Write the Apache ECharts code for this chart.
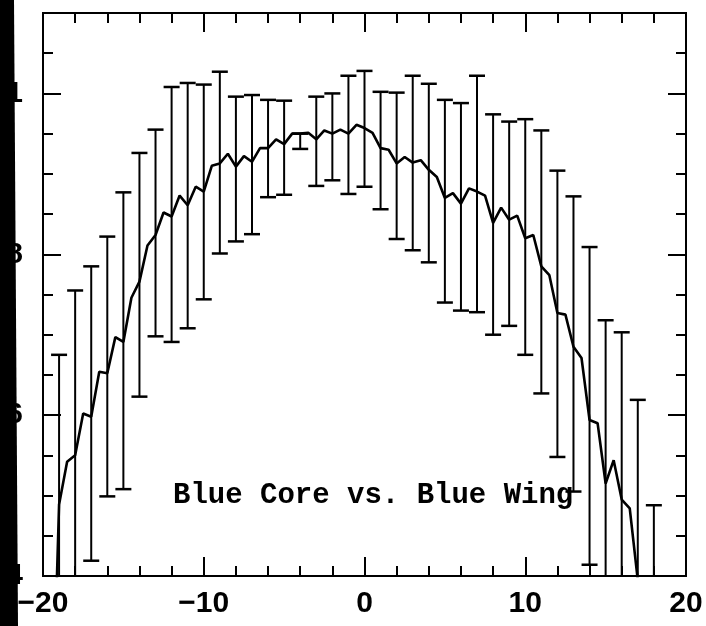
<!DOCTYPE html>
<html>
<head>
<meta charset="utf-8">
<script src="https://cdn.jsdelivr.net/npm/echarts@6/dist/echarts.min.js"></script>
<style>
html,body{margin:0;padding:0;background:#fff;}
#main{width:706px;height:626px;}
</style>
</head>
<body>
<div id="main"></div>
<script>
// Profile line (sampled every 0.5)
const lineX = [-19.5,-19,-18.5,-18,-17.5,-17,-16.5,-16,-15.5,-15,-14.5,-14,-13.5,-13,-12.5,-12,-11.5,-11,-10.5,-10,
  -9.5,-9,-8.5,-8,-7.5,-7,-6.5,-6,-5.5,-5,-4.5,-4,-3.5,-3,-2.5,-2,-1.5,-1,-0.5,0,
  0.5,1,1.5,2,2.5,3,3.5,4,4.5,5,5.5,6,6.5,7,7.5,8,8.5,9,9.5,10,
  10.5,11,11.5,12,12.5,13,13.5,14,14.5,15,15.5,16,16.5,17];
const lineY = [0.15,0.489,0.542,0.550,0.602,0.598,0.654,0.652,0.697,0.691,0.746,0.766,0.811,0.824,0.852,0.847,0.873,0.861,0.884,0.878,
  0.910,0.913,0.925,0.909,0.922,0.915,0.932,0.932,0.943,0.937,0.950,0.950,0.951,0.943,0.954,0.950,0.955,0.950,0.961,0.957,
  0.951,0.932,0.930,0.913,0.921,0.914,0.917,0.905,0.896,0.870,0.876,0.863,0.882,0.878,0.873,0.839,0.858,0.843,0.848,0.820,
  0.824,0.785,0.774,0.727,0.725,0.685,0.671,0.594,0.590,0.515,0.544,0.495,0.484,0.395];

// Error bars (one per integer offset)
const barX = [-19,-18,-17,-16,-15,-14,-13,-12,-11,-10,-9,-8,-7,-6,-5,-4,-3,-2,-1,0,1,2,3,4,5,6,7,8,9,10,11,12,13,14,15,16,17,18];
const barHigh = [0.675,0.755,0.785,0.822,0.877,0.926,0.955,1.008,1.013,1.011,1.027,0.996,0.998,0.992,0.991,0.950,0.996,1.000,1.022,1.028,
  1.002,1.001,1.022,1.012,0.992,0.988,1.022,0.974,0.965,0.968,0.954,0.904,0.872,0.809,0.718,0.703,0.619,0.488];
const barLow = [0.30,0.33,0.419,0.499,0.508,0.623,0.698,0.691,0.708,0.744,0.801,0.816,0.825,0.871,0.874,0.931,0.885,0.892,0.875,0.884,
  0.856,0.819,0.805,0.790,0.740,0.730,0.728,0.700,0.711,0.675,0.627,0.548,0.505,0.414,0.30,0.30,0.30,0.30];

const xTickMajor = 10, xTickMinor = 2;
const yTickMajor = 0.2, yTickMinor = 0.05;
const xMin = -20, xMax = 20, yMin = 0.4, yMax = 1.1;
const titleText = 'Blue Core vs. Blue Wing';

const lineData = lineX.map((x, i) => [x, lineY[i]]);
const barData = barX.map((x, i) => [x, barLow[i], barHigh[i]]);

const labelFont = {fontFamily: '"Liberation Sans", Arial, sans-serif', fontSize: 30, fontWeight: 'bold', color: '#000'};
const axisLineStyle = {show: true, onZero: false, lineStyle: {color: '#000', width: 2}};

function xAx(pos, interval, len, showLabel) {
  return {
    type: 'value', min: xMin, max: xMax, interval: interval, position: pos,
    axisLine: axisLineStyle,
    axisTick: {show: true, inside: true, length: len, lineStyle: {color: '#000', width: 2}},
    axisLabel: showLabel ? Object.assign({show: true, margin: 13,
      formatter: v => (v < 0 ? '\u2212' + Math.abs(v) : String(v))}, labelFont) : {show: false},
    splitLine: {show: false}
  };
}
function yAx(pos, interval, len, showLabel) {
  return {
    type: 'value', min: yMin, max: yMax, interval: interval, position: pos,
    axisLine: axisLineStyle,
    axisTick: {show: true, inside: true, length: len, lineStyle: {color: '#000', width: 2}},
    axisLabel: showLabel ? Object.assign({show: true, margin: 20, showMaxLabel: false,
      formatter: v => (Math.abs(v - 1) < 1e-9 ? '1' : '.' + Math.round(v * 10))}, labelFont) : {show: false},
    splitLine: {show: false}
  };
}

const chart = echarts.init(document.getElementById('main'), null, {renderer: 'canvas'});
chart.setOption({
  animation: false,
  backgroundColor: '#fff',
  grid: {left: 43, right: 20, top: 13, bottom: 50, containLabel: false, outerBoundsMode: 'none'},
  xAxis: [
    xAx('bottom', xTickMinor, 10, false),
    xAx('bottom', xTickMajor, 19, true),
    xAx('top', xTickMinor, 10, false),
    xAx('top', xTickMajor, 19, false)
  ],
  yAxis: [
    yAx('left', yTickMinor, 10, false),
    yAx('left', yTickMajor, 18, true),
    yAx('right', yTickMinor, 10, false),
    yAx('right', yTickMajor, 18, false)
  ],
  series: [
    {
      type: 'custom',
      xAxisIndex: 0, yAxisIndex: 0,
      clip: true,
      data: barData,
      renderItem: function (params, api) {
        const x = api.value(0), lo = api.value(1), hi = api.value(2);
        const cs = params.coordSys;
        const bottomPx = cs.y + cs.height, topPx = cs.y;
        const pT = api.coord([x, hi]);
        const pB = api.coord([x, lo]);
        const hw = 8;
        const children = [];
        let yb = pB[1], yt = pT[1];
        const botClipped = yb > bottomPx;
        const topClipped = yt < topPx;
        if (botClipped) yb = bottomPx;
        if (topClipped) yt = topPx;
        children.push({type: 'line', shape: {x1: pT[0], y1: yt, x2: pT[0], y2: yb}, style: {stroke: '#000', lineWidth: 2}});
        if (!topClipped) children.push({type: 'line', shape: {x1: pT[0] - hw, y1: yt, x2: pT[0] + hw, y2: yt}, style: {stroke: '#000', lineWidth: 2.5}});
        if (!botClipped) children.push({type: 'line', shape: {x1: pB[0] - hw, y1: yb, x2: pB[0] + hw, y2: yb}, style: {stroke: '#000', lineWidth: 2.5}});
        return {type: 'group', children: children};
      }
    },
    {
      type: 'line',
      xAxisIndex: 0, yAxisIndex: 0,
      data: lineData,
      symbol: 'none',
      clip: true,
      lineStyle: {color: '#000', width: 2.6},
      z: 3
    }
  ],
  graphic: [
    {
      type: 'text', x: 173, y: 496, z: 50,
      style: {text: titleText, fontFamily: '"Liberation Mono", monospace', fontSize: 29, fontWeight: 'bold',
        fill: '#000', verticalAlign: 'middle', align: 'left'}
    },
    {
      type: 'polygon', z: 100,
      shape: {points: [[0, 0], [14, 0], [18, 626], [0, 626]]},
      style: {fill: '#000'}
    }
  ]
});
</script>
</body>
</html>
